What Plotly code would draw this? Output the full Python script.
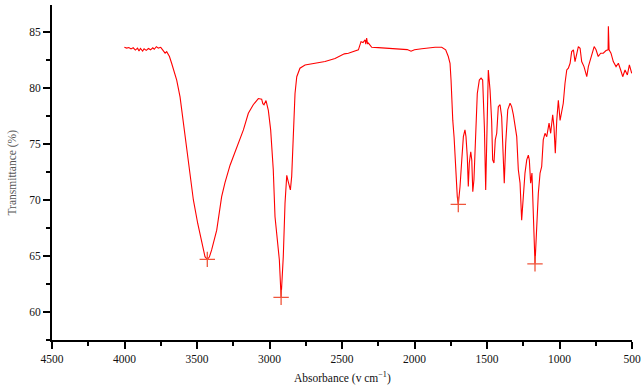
import plotly.graph_objects as go

# Wavenumber (cm^-1) and transmittance (%)
wavenumber = [
    4001, 3985, 3970, 3955, 3940, 3925, 3910, 3900, 3890, 3875, 3865, 3850, 3835, 3820,
    3805, 3795, 3780, 3767, 3750, 3735, 3720, 3709, 3690, 3675, 3660, 3640, 3617, 3594,
    3571, 3548, 3525, 3495, 3468, 3445, 3429, 3415, 3399, 3364, 3330, 3307, 3272, 3243,
    3215, 3180, 3146, 3112, 3077, 3054, 3046, 3038, 3024, 3008, 2992, 2974, 2962, 2943,
    2932, 2920, 2905, 2893, 2881, 2870, 2856, 2847, 2836, 2824, 2812, 2790, 2755, 2686,
    2617, 2548, 2484, 2456, 2387, 2369, 2355, 2341, 2336, 2330, 2324, 2318, 2295, 2250,
    2203, 2150, 2088, 2050, 2024, 2000, 1950, 1900, 1858, 1812, 1785, 1767, 1755, 1748,
    1743, 1736, 1727, 1716, 1705, 1698, 1686, 1674, 1663, 1652, 1645, 1636, 1629, 1622,
    1612, 1605, 1598, 1590, 1578, 1567, 1553, 1541, 1530, 1518, 1509, 1500, 1491, 1479,
    1468, 1461, 1452, 1443, 1433, 1422, 1410, 1399, 1387, 1381, 1371, 1357, 1341, 1330,
    1318, 1307, 1295, 1284, 1272, 1261, 1249, 1238, 1226, 1215, 1208, 1199, 1190, 1180,
    1169, 1157, 1146, 1134, 1123, 1112, 1100, 1088, 1072, 1061, 1047, 1038, 1029, 1019,
    1008, 996, 985, 974, 962, 950, 939, 927, 916, 904, 893, 881, 870, 858, 847, 831,
    812, 801, 790, 771, 761, 748, 733, 716, 698, 679, 665, 663, 660, 658, 645, 629,
    610, 594, 578, 564, 548, 532, 518, 502,
]
transmittance = [
    83.62, 83.55, 83.60, 83.48, 83.58, 83.38, 83.55, 83.30, 83.52, 83.28, 83.50, 83.35,
    83.52, 83.40, 83.58, 83.45, 83.68, 83.55, 83.62, 83.40, 83.10, 83.24, 82.80, 82.20,
    81.60, 80.70, 79.20, 76.85, 74.46, 72.10, 70.00, 67.90, 66.13, 64.94, 64.70, 64.90,
    65.54, 67.30, 70.30, 71.55, 73.10, 74.10, 74.90, 76.25, 77.74, 78.50, 79.05, 79.00,
    78.60, 78.50, 78.87, 78.00, 76.25, 72.70, 68.50, 65.83, 64.64, 61.30, 64.94, 69.70,
    72.20, 71.60, 70.90, 72.10, 76.25, 79.50, 81.00, 81.76, 82.05, 82.20, 82.35, 82.62,
    83.04, 83.10, 83.40, 84.13, 84.05, 84.30, 83.90, 84.44, 83.95, 84.00, 83.63, 83.60,
    83.57, 83.52, 83.45, 83.42, 83.27, 83.40, 83.50, 83.58, 83.63, 83.63, 83.40, 82.80,
    82.20, 80.70, 78.90, 77.10, 75.60, 72.70, 70.30, 69.60, 71.20, 73.57, 75.65, 76.25,
    75.65, 73.87, 71.20, 73.30, 74.30, 73.57, 70.74, 71.80, 76.25, 79.50, 80.70, 80.87,
    80.70, 76.50, 70.90, 76.50, 81.60, 79.80, 77.10, 73.57, 73.30, 75.36, 75.95, 78.33,
    78.50, 77.44, 72.97, 71.50, 75.06, 78.04, 78.63, 78.33, 77.60, 76.50, 75.65, 72.70,
    71.50, 68.20, 70.90, 72.40, 73.57, 74.00, 73.57, 71.50, 72.40, 68.20, 64.30, 67.60,
    70.60, 72.40, 72.97, 75.36, 75.95, 75.65, 76.85, 75.95, 77.60, 76.50, 74.17, 77.10,
    78.90, 77.10, 78.00, 78.63, 80.42, 81.60, 81.76, 82.20, 83.24, 83.40, 82.35, 83.10,
    83.69, 83.54, 82.35, 81.90, 81.00, 81.90, 82.35, 83.10, 83.69, 83.40, 82.80, 83.10,
    83.10, 83.33, 83.40, 85.50, 83.50, 83.40, 83.10, 82.35, 81.90, 82.20, 81.60, 81.00,
    81.60, 81.16, 82.05, 81.30,
]

# Marked peak positions
peak_wavenumber = [3429, 2920, 1698, 1169]
peak_transmittance = [64.70, 61.30, 69.60, 64.30]

x_ticks = [4500, 4000, 3500, 3000, 2500, 2000, 1500, 1000, 500]
y_ticks = [60, 65, 70, 75, 80, 85]

serif = "Liberation Serif, Times New Roman, serif"

fig = go.Figure()
fig.add_trace(go.Scatter(
    x=wavenumber, y=transmittance, mode="lines",
    line=dict(color="#ff0000", width=1.1), showlegend=False,
))
fig.add_trace(go.Scatter(
    x=peak_wavenumber, y=peak_transmittance, mode="markers",
    marker=dict(symbol="cross-thin-open", size=11, line=dict(color="#ff0000", width=1.3)),
    showlegend=False,
))

fig.update_layout(
    width=643, height=387,
    margin=dict(l=52, r=11, t=5, b=47),
    paper_bgcolor="white", plot_bgcolor="white",
    font=dict(family=serif, size=12, color="#111"),
    annotations=[
        dict(text="Absorbance (v cm<sup>−1</sup>)", xref="paper", yref="paper",
             x=0.5, y=0, yshift=-37, xanchor="center", yanchor="middle",
             showarrow=False, font=dict(family=serif, size=11.5, color="#111")),
        dict(text="Transmittance (%)", xref="paper", yref="paper",
             x=0, y=0.5, xshift=-40, xanchor="center", yanchor="middle", textangle=-90,
             showarrow=False, font=dict(family=serif, size=11.5, color="#555")),
    ],
)
fig.update_xaxes(
    range=[4500, 500], tickvals=x_ticks, ticktext=[str(v) for v in x_ticks],
    automargin=False,
    showgrid=False, zeroline=False,
    showline=True, linecolor="black", linewidth=2,
    ticks="outside", ticklen=7, tickwidth=2, tickcolor="black",
    minor=dict(ticks="outside", ticklen=4, tickwidth=2, tickcolor="black",
               tick0=4250, dtick=500, showgrid=False),
    tickfont=dict(family=serif, size=11.5, color="#111"),
)
fig.update_yaxes(
    range=[57.5, 87.4], tickvals=y_ticks, ticktext=[str(v) for v in y_ticks],
    automargin=False,
    showgrid=False, zeroline=False,
    showline=True, linecolor="black", linewidth=2,
    ticks="outside", ticklen=7, tickwidth=2, tickcolor="black",
    minor=dict(ticks="outside", ticklen=4, tickwidth=2, tickcolor="black",
               tick0=57.5, dtick=5, showgrid=False),
    tickfont=dict(family=serif, size=11.5, color="#111"),
)

fig.write_html("out.html", config={"displayModeBar": False},
               post_script="document.body.style.margin='0';")
